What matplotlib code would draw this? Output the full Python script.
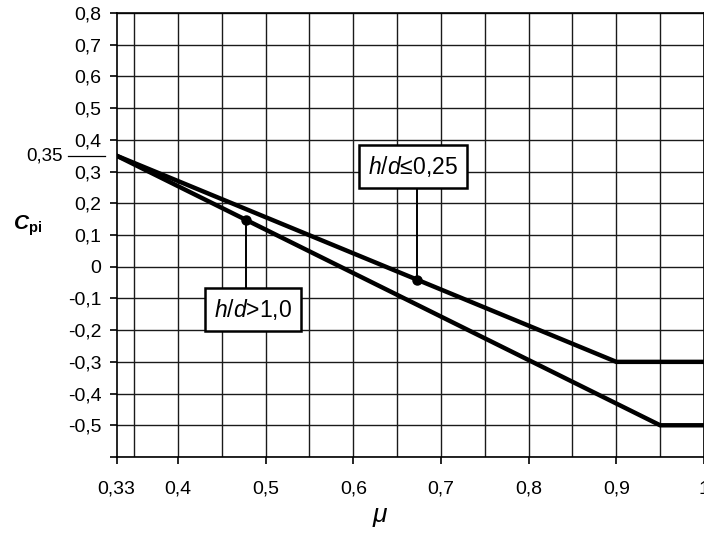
import numpy as np
import matplotlib
matplotlib.use("Agg")
import matplotlib.pyplot as plt
from matplotlib.ticker import FixedLocator, FuncFormatter

plt.rcParams['font.family'] = ['Liberation Sans', 'DejaVu Sans']
plt.rcParams['mathtext.fontset'] = 'custom'
plt.rcParams['mathtext.rm'] = 'Liberation Sans'
plt.rcParams['mathtext.it'] = 'Liberation Sans:italic'
plt.rcParams['mathtext.bf'] = 'Liberation Sans:bold'
plt.rcParams['mathtext.bfit'] = 'Liberation Sans:italic:bold'

# Data
mu_low = [0.33, 0.90, 1.00]      # h/d <= 0.25
cpi_low = [0.35, -0.30, -0.30]
mu_high = [0.33, 0.95, 1.00]     # h/d >= 1.0
cpi_high = [0.35, -0.50, -0.50]
label_low = "$\\mathit{h/d}$≤0,25"
label_high = "$\\mathit{h/d}$>1,0"
mark_low_mu = 0.6726
mark_high_mu = 0.478
xticks = [0.33, 0.4, 0.5, 0.6, 0.7, 0.8, 0.9, 1.0]
xtick_labels = ["0,33", "0,4", "0,5", "0,6", "0,7", "0,8", "0,9", "1"]
yticks = [-0.6, -0.5, -0.4, -0.3, -0.2, -0.1, 0.0, 0.1, 0.2, 0.3, 0.4, 0.5, 0.6, 0.7, 0.8]

fig = plt.figure(figsize=(7.04, 5.36), dpi=100)
ax = fig.add_axes([116.6 / 704, 1 - 457 / 536, 1 - 116.6 / 704, (457 - 13) / 536])
ax.set_xlim(0.33, 1.0)
ax.set_ylim(-0.6, 0.8)

# grid
for gx in np.arange(0.35, 1.001, 0.05):
    ax.axvline(gx, color='#1a1a1a', lw=1.0, zorder=1)
for gy in yticks:
    ax.axhline(gy, color='#1a1a1a', lw=1.0, zorder=1)

ax.plot(mu_low, cpi_low, color='black', lw=3.2, zorder=3, solid_joinstyle='miter')
ax.plot(mu_high, cpi_high, color='black', lw=3.2, zorder=3, solid_joinstyle='miter')

# markers and leader lines
yl = np.interp(mark_low_mu, mu_low, cpi_low)
yh = np.interp(mark_high_mu, mu_high, cpi_high)
ax.plot([mark_low_mu], [yl], 'o', color='black', ms=6.5, zorder=4)
ax.plot([mark_high_mu], [yh], 'o', color='black', ms=6.5, zorder=4)
ax.plot([mark_low_mu, mark_low_mu], [yl, 0.26], color='black', lw=1.4, zorder=3)
ax.plot([mark_high_mu, mark_high_mu], [yh, -0.08], color='black', lw=1.4, zorder=3)

bbox = dict(boxstyle='square,pad=0.4', fc='white', ec='black', lw=1.8)
ax.text(0.6683, 0.316, label_low, fontsize=16.5, ha='center', va='center', bbox=bbox, zorder=5)
ax.text(0.4857, -0.135, label_high, fontsize=16.5, ha='center', va='center', bbox=bbox, zorder=5)

# ticks
ax.xaxis.set_major_locator(FixedLocator(xticks))
ax.set_xticklabels(xtick_labels)
ax.yaxis.set_major_locator(FixedLocator(yticks))

def yfmt(v, pos):
    if abs(v + 0.6) < 1e-6:
        return ""
    if abs(v) < 1e-9:
        return "0"
    return ("%.1f" % v).replace(".", ",")

ax.yaxis.set_major_formatter(FuncFormatter(yfmt))
ax.tick_params(axis='both', direction='out', length=5, width=1.2, colors='black', labelsize=14)
ax.tick_params(axis='y', pad=6)
ax.tick_params(axis='x', pad=12)

for s in ax.spines.values():
    s.set_linewidth(1.2)
    s.set_color('black')

# 0,35 label with line
tr = ax.get_yaxis_transform()
ax.text(-0.091, 0.35, "0,35", transform=tr, ha='right', va='center', fontsize=13.5, clip_on=False)
ax.plot([-0.083, -0.02], [0.35, 0.35], transform=tr, color='black', lw=0.9, clip_on=False)

# axis labels
fig.text(13 / 704, 1 - 226 / 536, "$\\mathbfit{C}_{\\mathbf{pi}}$", ha='left', va='center',
         fontsize=15)
fig.text(380 / 704, 1 - 517 / 536, "$\\mathit{\\mu}$", ha='center', va='center', fontsize=19)

fig.savefig("out.png", dpi=100)
